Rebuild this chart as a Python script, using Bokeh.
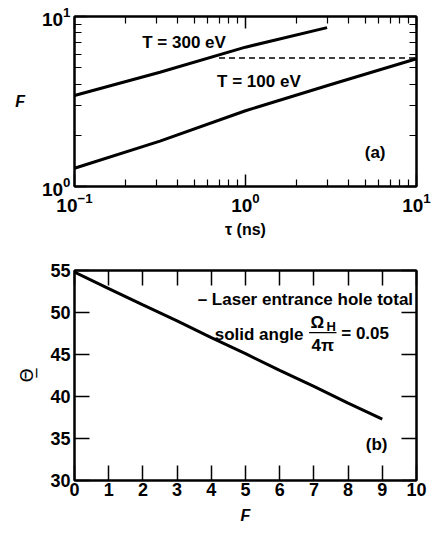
from bokeh.plotting import figure
from bokeh.layouts import column
from bokeh.models import (LinearAxis, LogAxis, Label, BoxAnnotation, FixedTicker,
                          CustomJSTickFormatter, LogTickFormatter, Range1d)
from bokeh.embed import file_html
from bokeh.resources import INLINE

# ---- data: panel (a) ----
tau_300 = [0.1, 0.316, 1.0, 3.0]
F_300 = [3.43, 4.70, 6.60, 8.60]
tau_100 = [0.1, 0.316, 1.0, 3.16, 10.0]
F_100 = [1.28, 1.85, 2.79, 3.98, 5.64]
tau_dash = [0.70, 10.0]
F_dash = [5.70, 5.70]
tau_major = [0.1, 1, 10]
tau_minor = [0.2, 0.3, 0.4, 0.5, 0.6, 0.7, 0.8, 0.9, 2, 3, 4, 5, 6, 7, 8, 9]
F_major = [1, 10]
F_minor = [2, 3, 4, 5, 6, 7, 8, 9]

# ---- data: panel (b) ----
F_b = [0, 1, 2, 3, 4, 5, 6, 7, 8, 9]
theta_b = [54.8, 52.85, 50.9, 49.0, 47.0, 45.1, 43.1, 41.2, 39.2, 37.3]
x_ticks_b = [0, 1, 2, 3, 4, 5, 6, 7, 8, 9, 10]
y_ticks_b = [30, 35, 40, 45, 50, 55]

FONT = "Liberation Sans"


def style_axis(ax, labels=True, size="15px", major_in=12, minor_in=7):
    ax.axis_line_color = "black"
    ax.axis_line_width = 2
    ax.major_tick_in = major_in
    ax.major_tick_out = 0
    ax.minor_tick_in = minor_in
    ax.minor_tick_out = 0
    ax.major_tick_line_width = 1.5
    ax.minor_tick_line_width = 1.2
    ax.major_tick_line_color = "black"
    ax.minor_tick_line_color = "black" if minor_in else None
    ax.major_label_text_font = FONT
    ax.major_label_text_font_style = "bold"
    ax.major_label_text_color = "black"
    if labels:
        ax.major_label_text_font_size = size
        ax.major_label_standoff = 4
    else:
        ax.formatter = CustomJSTickFormatter(code="return ''")
        ax.major_label_text_font_size = "0px"
        ax.major_label_standoff = 0


# ---------- panel (a) ----------
pa = figure(x_axis_type="log", y_axis_type="log",
            x_range=Range1d(0.1, 10), y_range=Range1d(1, 10),
            width=436, height=253,
            min_border_left=74, min_border_right=19, min_border_top=16, min_border_bottom=67,
            output_backend="svg", toolbar_location=None)
pa.xgrid.visible = False
pa.ygrid.visible = False
pa.outline_line_color = "black"
pa.outline_line_width = 2

pa.xaxis.ticker = FixedTicker(ticks=tau_major, minor_ticks=tau_minor)
pa.yaxis.ticker = FixedTicker(ticks=F_major, minor_ticks=F_minor)
pa.xaxis.formatter = LogTickFormatter()
pa.yaxis.formatter = LogTickFormatter()
for ax in pa.xaxis + pa.yaxis:
    style_axis(ax, size="19px")
pa.xaxis.major_label_standoff = 6
pa.xaxis.axis_label = "τ (ns)"
pa.yaxis.axis_label = "F"
for ax, st in ((pa.xaxis[0], "bold"), (pa.yaxis[0], "bold italic")):
    ax.axis_label_text_font = FONT
    ax.axis_label_text_font_style = st
    ax.axis_label_text_font_size = "16px"
    ax.axis_label_text_color = "black"
pa.xaxis.axis_label_standoff = 6
pa.yaxis.axis_label_standoff = 14
pa.yaxis.major_label_orientation = "horizontal"
pa.yaxis.axis_label_orientation = "horizontal"

ra = LogAxis(ticker=FixedTicker(ticks=F_major, minor_ticks=F_minor))
style_axis(ra, labels=False)
pa.add_layout(ra, "right")
ta = LogAxis(ticker=FixedTicker(ticks=tau_major, minor_ticks=tau_minor))
style_axis(ta, labels=False)
pa.add_layout(ta, "above")

pa.line(tau_300, F_300, line_color="black", line_width=3)
pa.line(tau_100, F_100, line_color="black", line_width=3)
pa.line(tau_dash, F_dash, line_color="black", line_width=1.5, line_dash="6 4")

for txt, x, y, align in (("T = 300 eV", 0.249, 7.03, "left"),
                         ("T = 100 eV", 0.682, 4.15, "left"),
                         ("(a)", 6.59, 1.585, "right")):
    pa.add_layout(Label(x=x, y=y, text=txt, text_align=align, text_baseline="middle",
                        text_font=FONT, text_font_style="bold", text_font_size="17px",
                        text_color="black"))

# ---------- panel (b) ----------
pb = figure(x_range=Range1d(0, 10), y_range=Range1d(30, 55),
            width=436, height=282,
            min_border_left=73, min_border_right=20, min_border_top=17, min_border_bottom=55,
            output_backend="svg", toolbar_location=None)
pb.xgrid.visible = False
pb.ygrid.visible = False
pb.outline_line_color = "black"
pb.outline_line_width = 2

pb.xaxis.ticker = FixedTicker(ticks=x_ticks_b)
pb.yaxis.ticker = FixedTicker(ticks=y_ticks_b)
for ax in pb.xaxis + pb.yaxis:
    style_axis(ax, size="18px", major_in=15, minor_in=0)
pb.xaxis.major_label_standoff = 2
pb.xaxis.axis_label = "F"
pb.yaxis.axis_label = "Θ\u0332"
pb.xaxis.axis_label_text_font = FONT
pb.xaxis.axis_label_text_font_style = "bold italic"
pb.xaxis.axis_label_text_font_size = "16px"
pb.xaxis.axis_label_standoff = 8
pb.yaxis.axis_label_text_font = "DejaVu Sans"
pb.yaxis.axis_label_text_font_style = "normal"
pb.yaxis.axis_label_text_font_size = "18px"
pb.yaxis.axis_label_standoff = 10
for ax in pb.xaxis + pb.yaxis:
    ax.axis_label_text_color = "black"

rb = LinearAxis(ticker=FixedTicker(ticks=y_ticks_b))
style_axis(rb, labels=False, major_in=15, minor_in=0)
pb.add_layout(rb, "right")
tb = LinearAxis(ticker=FixedTicker(ticks=x_ticks_b))
style_axis(tb, labels=False, major_in=15, minor_in=0)
pb.add_layout(tb, "above")

pb.line(F_b, theta_b, line_color="black", line_width=3)

lab = dict(text_font=FONT, text_font_style="bold", text_color="black", text_baseline="middle")
pb.add_layout(Label(x=9.9, y=51.6, text="– Laser entrance hole total", text_align="right",
                    text_font_size="17px", **lab))
pb.add_layout(Label(x=4.1, y=47.4, text="solid angle", text_align="left",
                    text_font_size="17px", **lab))
pb.add_layout(Label(x=6.9, y=48.85, text="Ω", text_align="left",
                    text_font_size="17px", **lab))
pb.add_layout(Label(x=7.37, y=48.3, text="H", text_align="left",
                    text_font_size="13px", **lab))
pb.add_layout(BoxAnnotation(left=6.86, right=7.66, bottom=47.52, top=47.68,
                            fill_color="black", fill_alpha=1, line_color=None))
pb.add_layout(Label(x=7.26, y=46.1, text="4π", text_align="center",
                    text_font_size="17px", **lab))
pb.add_layout(Label(x=7.8, y=47.45, text="= 0.05", text_align="left",
                    text_font_size="17px", **lab))
pb.add_layout(Label(x=9.15, y=34.3, text="(b)", text_align="right",
                    text_font_size="17px", **lab))

layout = column(pa, pb, spacing=0)
open("out.html", "w").write(file_html(layout, INLINE))
